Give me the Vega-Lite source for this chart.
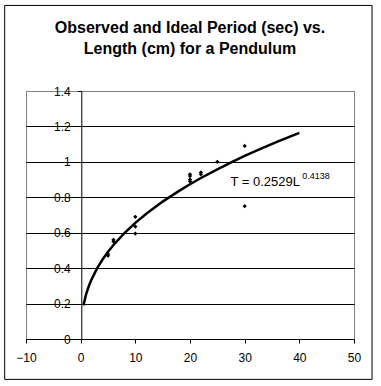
{
  "$schema": "https://vega.github.io/schema/vega-lite/v6.json",
  "autosize": "none",
  "width": 328,
  "height": 248,
  "padding": {"left": 26, "top": 91, "right": 27, "bottom": 47},
  "background": "white",
  "config": {
    "font": "Liberation Sans",
    "view": {"stroke": "#808080", "strokeWidth": 1}
  },
  "title": {
    "text": ["Observed and Ideal Period (sec) vs.", "Length (cm) for a Pendulum"],
    "font": "Liberation Sans",
    "fontSize": 16,
    "fontWeight": "bold",
    "color": "black",
    "anchor": "middle",
    "frame": "group",
    "lineHeight": 21,
    "offset": -52
  },
  "datasets": {
    "observed": [
      {"L": 5, "T": 0.47}, {"L": 5, "T": 0.48},
      {"L": 6, "T": 0.55}, {"L": 6, "T": 0.56},
      {"L": 10, "T": 0.69}, {"L": 10, "T": 0.635}, {"L": 10, "T": 0.595},
      {"L": 20, "T": 0.93}, {"L": 20, "T": 0.92}, {"L": 20, "T": 0.9}, {"L": 20, "T": 0.89},
      {"L": 22, "T": 0.94}, {"L": 22, "T": 0.93},
      {"L": 25, "T": 1.0},
      {"L": 30, "T": 1.09}, {"L": 30, "T": 0.75}
    ],
    "trend": [
      {"L": 0.5, "T": 0.1899}, {"L": 1, "T": 0.2529}, {"L": 1.5, "T": 0.2991},
      {"L": 2, "T": 0.3369}, {"L": 3, "T": 0.3984}, {"L": 4, "T": 0.4488},
      {"L": 5, "T": 0.4922}, {"L": 6, "T": 0.5308}, {"L": 8, "T": 0.5979},
      {"L": 10, "T": 0.6558}, {"L": 12, "T": 0.7072}, {"L": 15, "T": 0.7756},
      {"L": 18, "T": 0.8363}, {"L": 20, "T": 0.8736}, {"L": 22, "T": 0.9088},
      {"L": 25, "T": 0.9581}, {"L": 28, "T": 1.0041}, {"L": 30, "T": 1.0332},
      {"L": 33, "T": 1.0748}, {"L": 36, "T": 1.1142}, {"L": 40, "T": 1.1638}
    ],
    "labels": [
      {"L": 27.4, "T": 0.864, "text": "T = 0.2529L", "kind": "main"},
      {"L": 40.55, "T": 0.905, "text": "0.4138", "kind": "sup"}
    ],
    "frame": [{"x1": -13.9, "x2": 53.3, "y1": 1.883, "y2": -0.228}]
  },
  "layer": [
    {
      "data": {"name": "frame"},
      "mark": {"type": "rect", "fill": null, "fillOpacity": 0, "stroke": "black", "strokeWidth": 1, "clip": false},
      "encoding": {
        "x": {"field": "x1", "type": "quantitative"},
        "x2": {"field": "x2"},
        "y": {"field": "y1", "type": "quantitative"},
        "y2": {"field": "y2"}
      }
    },
    {
      "data": {"name": "trend"},
      "mark": {"type": "line", "color": "black", "strokeWidth": 2.5},
      "encoding": {
        "x": {
          "field": "L", "type": "quantitative",
          "scale": {"domain": [-10, 50], "nice": false, "zero": false},
          "axis": {
            "title": null,
            "values": [-10, 0, 10, 20, 30, 40, 50],
            "tickCount": 12,
            "grid": false,
            "domainColor": "black",
            "tickColor": "black",
            "tickSize": 4,
            "labelFont": "Liberation Sans",
            "labelFontSize": 12,
            "labelColor": "black",
            "labelPadding": 9,
            "labelFlush": false,
            "labelOverlap": false
          }
        },
        "y": {
          "field": "T", "type": "quantitative",
          "scale": {"domain": [0, 1.4], "nice": false},
          "axis": {
            "title": null,
            "values": [0, 0.2, 0.4, 0.6, 0.8, 1, 1.2, 1.4],
            "tickCount": 12,
            "format": "~f",
            "offset": -55.3,
            "grid": true,
            "gridColor": {"condition": {"test": "datum.value >= 1.39", "value": "#808080"}, "value": "black"},
            "gridOpacity": 1,
            "domainColor": "black",
            "tickColor": "black",
            "tickSize": 4,
            "labelFont": "Liberation Sans",
            "labelFontSize": 12,
            "labelColor": "black",
            "labelPadding": 7,
            "labelFlush": false,
            "labelOverlap": false
          }
        }
      }
    },
    {
      "data": {"name": "observed"},
      "mark": {"type": "point", "shape": "diamond", "filled": true, "color": "black", "size": 18, "opacity": 1},
      "encoding": {
        "x": {"field": "L", "type": "quantitative"},
        "y": {"field": "T", "type": "quantitative"}
      }
    },
    {
      "data": {"name": "labels"},
      "transform": [{"filter": "datum.kind === 'main'"}],
      "mark": {"type": "text", "align": "left", "baseline": "alphabetic", "font": "Liberation Sans", "fontSize": 13, "color": "black"},
      "encoding": {
        "x": {"field": "L", "type": "quantitative"},
        "y": {"field": "T", "type": "quantitative"},
        "text": {"field": "text"}
      }
    },
    {
      "data": {"name": "labels"},
      "transform": [{"filter": "datum.kind === 'sup'"}],
      "mark": {"type": "text", "align": "left", "baseline": "alphabetic", "font": "Liberation Sans", "fontSize": 9, "color": "black"},
      "encoding": {
        "x": {"field": "L", "type": "quantitative"},
        "y": {"field": "T", "type": "quantitative"},
        "text": {"field": "text"}
      }
    }
  ]
}
